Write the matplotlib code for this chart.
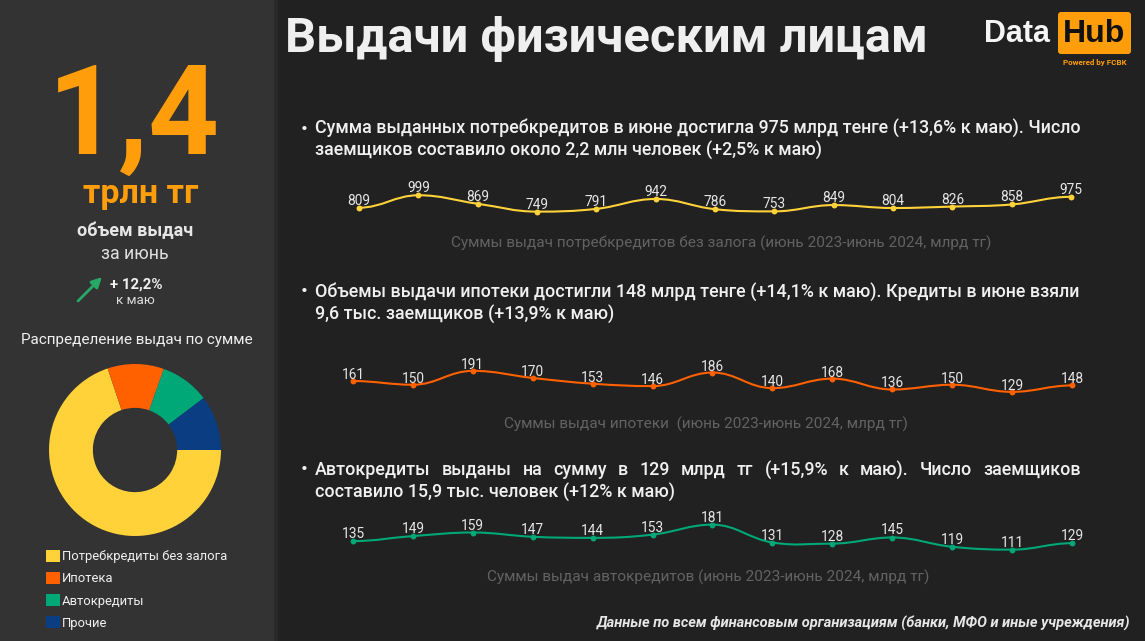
import matplotlib as mpl
mpl.use('Agg')
import matplotlib.pyplot as plt
import numpy as np
from matplotlib.patches import Rectangle, FancyBboxPatch, PathPatch
from matplotlib.path import Path

plt.rcParams['font.family'] = ['Roboto', 'DejaVu Sans']

W, H = 1145, 641

consumer = [809, 999, 869, 749, 791, 942, 786, 753, 849, 804, 826, 858, 975]
mortgage = [161, 150, 191, 170, 153, 146, 186, 140, 168, 136, 150, 129, 148]
auto = [135, 149, 159, 147, 144, 153, 181, 131, 128, 145, 119, 111, 129]

pie_labels = ['Потребкредиты без залога', 'Ипотека', 'Автокредиты', 'Прочие']
pie_values = [975, 148, 129, 144]

YELLOW = '#ffd23a'
ORANGE = '#ff6000'
GREEN = '#00a878'
BLUE = '#0a3d82'
AMBER = '#ff9d0a'
pie_colors = [YELLOW, ORANGE, GREEN, BLUE]

fig = plt.figure(figsize=(W / 100, H / 100), dpi=100, facecolor='#212121')

# whole picture in pixels, for the texts and the panel
bg = fig.add_axes([0, 0, 1, 1])
bg.set_xlim(0, W)
bg.set_ylim(H, 0)
bg.axis('off')
bg.add_patch(Rectangle((0, 0), 274, H, color='#333333', lw=0))
bg.add_patch(Rectangle((274, 0), 4, H, color='#292929', lw=0))


def txt(x, y, s, size, color='#f0f0f0', weight='normal', ha='center', **kw):
    return bg.text(x, y, s, fontsize=size, color=color, weight=weight, ha=ha, va='center', **kw)


def justified(x0, x1, y, s, size, **kw):
    # word spacing stretched so the line fills x0..x1
    words = s.split()
    r = fig.canvas.get_renderer()
    items = [txt(0, y, w, size, ha='left', **kw) for w in words]
    widths = [t.get_window_extent(r).width for t in items]
    gap = (x1 - x0 - sum(widths)) / (len(words) - 1)
    x = x0
    for t, w in zip(items, widths):
        t.set_x(x)
        x += w + gap


def px_axes(x0, x1, y0, y1):
    return fig.add_axes([x0 / W, 1 - y1 / H, (x1 - x0) / W, (y1 - y0) / H])


def smooth_path(xs, ys):
    # bezier segments through the points, flat at peaks and dips
    n = len(xs)
    slopes = []
    for i in range(n):
        if i == 0 or i == n - 1 or (ys[i] - ys[i - 1]) * (ys[i + 1] - ys[i]) <= 0:
            slopes.append(0.0)
        else:
            slopes.append((ys[i + 1] - ys[i - 1]) / 2)
    verts = [(xs[0], ys[0])]
    codes = [Path.MOVETO]
    for i in range(n - 1):
        verts += [(xs[i] + 0.4, ys[i] + slopes[i] * 0.4),
                  (xs[i + 1] - 0.4, ys[i + 1] - slopes[i + 1] * 0.4),
                  (xs[i + 1], ys[i + 1])]
        codes += [Path.CURVE4] * 3
    return Path(verts, codes)


def line_chart(vals, color, x0, x1, y0, y1, ylim, dy=7):
    ax = px_axes(x0, x1, y0, y1)
    ax.set_xlim(0, len(vals) - 1)
    ax.set_ylim(*ylim)
    ax.axis('off')
    xs = np.arange(len(vals))
    ax.add_patch(PathPatch(smooth_path(xs, vals), fc='none', ec=color, lw=1.5, clip_on=False))
    ax.scatter(xs, vals, s=18, color=color, zorder=3, clip_on=False, lw=0)
    for x, v in zip(xs, vals):
        ax.annotate(str(v), (x, v), xytext=(0, dy), textcoords='offset pixels', ha='center', va='center',
                    fontsize=9.9, color='#e6e6e6', annotation_clip=False, zorder=4)


# left panel
txt(134, 120, '1,4', 89, AMBER, 'bold')
txt(141, 194, 'трлн тг', 24.5, AMBER, 'bold')
txt(135, 231, 'объем выдач', 13, '#e6e6e6', 'bold')
txt(135, 254, 'за июнь', 12.8, '#e0e0e0')
txt(136, 285, '+ 12,2%', 10.8, '#f0f0f0', 'bold')
txt(135, 301, 'к маю', 9.6, '#dddddd')
bg.annotate('', xy=(102, 277), xytext=(78, 301),
            arrowprops=dict(arrowstyle='-|>,head_width=0.3,head_length=0.6', color='#27a866', lw=2,
                            shrinkA=0, shrinkB=0))
txt(137, 340, 'Распределение выдач по сумме', 11)

# donut
pie_ax = px_axes(49, 221, 364, 536)
wedges, _ = pie_ax.pie(pie_values, colors=pie_colors, startangle=0, counterclock=False, radius=1,
                       wedgeprops=dict(width=0.51, lw=0))
pie_ax.set_xlim(-1, 1)
pie_ax.set_ylim(-1, 1)
leg = fig.legend(wedges, pie_labels, loc='upper left', bbox_to_anchor=(46 / W, 1 - 550 / H), frameon=False,
                 fontsize=9.35, labelcolor='#f0f0f0', handlelength=1.05, handleheight=1.05,
                 handletextpad=0.15, labelspacing=0.66, borderpad=0, borderaxespad=0)

# header
txt(285, 39, 'Выдачи физическим лицам', 35.2, '#efefef', 'bold', ha='left')
txt(1017.5, 34, 'Data', 22, '#f5f5f5', 'bold', family='Liberation Sans')
bg.add_patch(FancyBboxPatch((1058, 12), 73, 42, boxstyle='round,pad=0,rounding_size=3', fc=AMBER, ec='none'))
txt(1094, 34, 'Hub', 23, '#111111', 'bold', family='Liberation Sans')
txt(1095, 63, 'Powered by FCBK', 5.8, AMBER, 'bold')

# paragraphs
BODY = 12.87
for y in (129, 292, 470):
    txt(301, y, '•', 15, ha='left')
txt(315, 129, 'Сумма выданных потребкредитов в июне достигла 975 млрд тенге (+13,6% к маю). Число', BODY, ha='left', weight=500)
txt(315, 151, 'заемщиков составило около 2,2 млн человек (+2,5% к маю)', BODY, ha='left', weight=500)
txt(315, 292, 'Объемы выдачи ипотеки достигли 148 млрд тенге (+14,1% к маю). Кредиты в июне взяли', BODY, ha='left', weight=500)
txt(315, 315, '9,6 тыс. заемщиков (+13,9% к маю)', BODY, ha='left', weight=500)
justified(315, 1081, 470, 'Автокредиты выданы на сумму в 129 млрд тг (+15,9% к маю). Число заемщиков', BODY, weight=500)
txt(315, 492, 'составило 15,9 тыс. человек (+12% к маю)', BODY, ha='left', weight=500)

# line charts
line_chart(consumer, YELLOW, 359, 1071, 180, 220, (621, 1232))
line_chart(mortgage, ORANGE, 353, 1072, 360, 400, (105, 223), dy=6)
line_chart(auto, GREEN, 353, 1072, 515, 555, (96, 208))

CAP = '#626262'
txt(721, 243, 'Суммы выдач потребкредитов без залога (июнь 2023-июнь 2024, млрд тг)', 11.05, CAP)
txt(706, 424, 'Суммы выдач ипотеки  (июнь 2023-июнь 2024, млрд тг)', 11.05, CAP)
txt(708, 577, 'Суммы выдач автокредитов (июнь 2023-июнь 2024, млрд тг)', 11.05, CAP)

txt(1130, 623, 'Данные по всем финансовым организациям (банки, МФО и иные учреждения)', 10.5, '#e6e6e6', 'bold',
    ha='right', style='italic')

fig.savefig('out.png', dpi=100, facecolor=fig.get_facecolor())
plt.close(fig)
